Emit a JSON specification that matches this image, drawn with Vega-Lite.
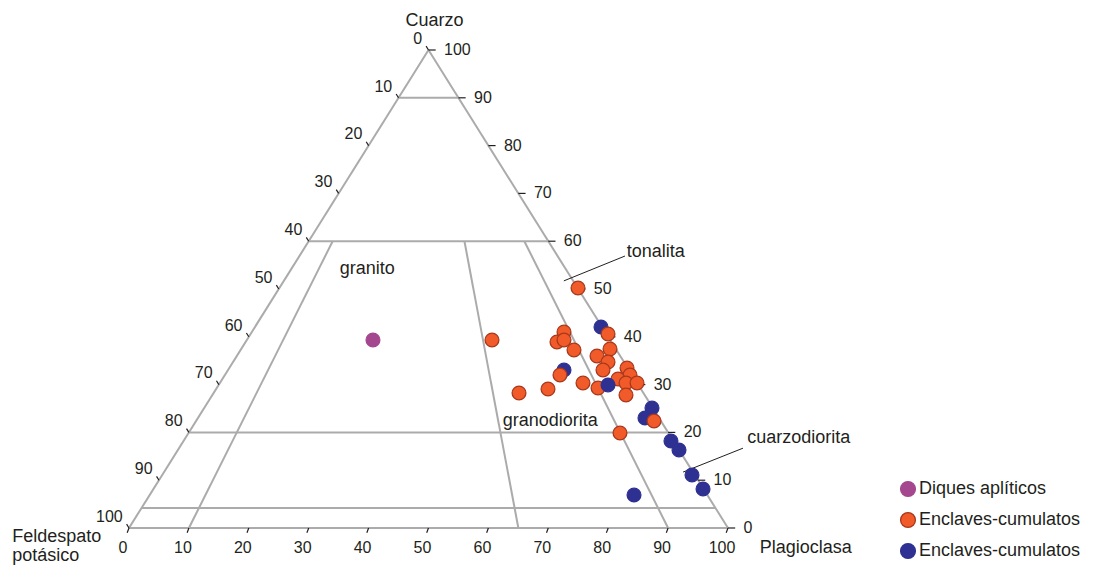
{
  "$schema": "https://vega.github.io/schema/vega-lite/v6.json",
  "width": 1097,
  "height": 565,
  "autosize": {"type": "none"},
  "padding": 0,
  "background": "white",
  "config": {
    "view": {"stroke": null},
    "text": {"font": "Liberation Sans", "color": "#231F20"}
  },
  "datasets": {
    "frame": [
      {"x": 0, "y": 0, "x2": 100, "y2": 0},
      {"x": 0, "y": 0, "x2": 50, "y2": 100},
      {"x": 100, "y": 0, "x2": 50, "y2": 100},
      {"x": 45, "y": 90, "x2": 55, "y2": 90},
      {"x": 30, "y": 60, "x2": 70, "y2": 60},
      {"x": 10, "y": 20, "x2": 90, "y2": 20},
      {"x": 2.1, "y": 4.2, "x2": 97.9, "y2": 4.2},
      {"x": 34, "y": 60, "x2": 10, "y2": 0},
      {"x": 56, "y": 60, "x2": 65, "y2": 0},
      {"x": 66, "y": 60, "x2": 90, "y2": 0}
    ],
    "ticks": [
      {"x": 100, "y": 0, "x2": 101.2, "y2": 0},
      {"x": 95, "y": 10, "x2": 96.2, "y2": 10},
      {"x": 90, "y": 20, "x2": 91.2, "y2": 20},
      {"x": 85, "y": 30, "x2": 86.2, "y2": 30},
      {"x": 80, "y": 40, "x2": 81.2, "y2": 40},
      {"x": 75, "y": 50, "x2": 76.2, "y2": 50},
      {"x": 70, "y": 60, "x2": 71.2, "y2": 60},
      {"x": 65, "y": 70, "x2": 66.2, "y2": 70},
      {"x": 60, "y": 80, "x2": 61.2, "y2": 80},
      {"x": 55, "y": 90, "x2": 56.2, "y2": 90},
      {"x": 50, "y": 100, "x2": 51.2, "y2": 100},
      {"x": 0, "y": 0, "x2": -0.4, "y2": 0.8},
      {"x": 5, "y": 10, "x2": 4.6, "y2": 10.8},
      {"x": 10, "y": 20, "x2": 9.6, "y2": 20.8},
      {"x": 15, "y": 30, "x2": 14.6, "y2": 30.8},
      {"x": 20, "y": 40, "x2": 19.6, "y2": 40.8},
      {"x": 25, "y": 50, "x2": 24.6, "y2": 50.8},
      {"x": 30, "y": 60, "x2": 29.6, "y2": 60.8},
      {"x": 35, "y": 70, "x2": 34.6, "y2": 70.8},
      {"x": 40, "y": 80, "x2": 39.6, "y2": 80.8},
      {"x": 45, "y": 90, "x2": 44.6, "y2": 90.8},
      {"x": 50, "y": 100, "x2": 49.6, "y2": 100.8},
      {"x": 0, "y": 0, "x2": -0.3, "y2": -1.0},
      {"x": 10, "y": 0, "x2": 9.7, "y2": -1.0},
      {"x": 20, "y": 0, "x2": 19.7, "y2": -1.0},
      {"x": 30, "y": 0, "x2": 29.7, "y2": -1.0},
      {"x": 40, "y": 0, "x2": 39.7, "y2": -1.0},
      {"x": 50, "y": 0, "x2": 49.7, "y2": -1.0},
      {"x": 60, "y": 0, "x2": 59.7, "y2": -1.0},
      {"x": 70, "y": 0, "x2": 69.7, "y2": -1.0},
      {"x": 80, "y": 0, "x2": 79.7, "y2": -1.0},
      {"x": 90, "y": 0, "x2": 89.7, "y2": -1.0},
      {"x": 100, "y": 0, "x2": 99.7, "y2": -1.0}
    ],
    "leaders": [
      {"x": 72.6, "y": 51.7, "x2": 82.8, "y2": 56.9},
      {"x": 92.5, "y": 11.7, "x2": 102.5, "y2": 16.7}
    ],
    "bottomLabels": [
      {"x": -1, "y": -4.2, "t": "0"},
      {"x": 9, "y": -4.2, "t": "10"},
      {"x": 19, "y": -4.2, "t": "20"},
      {"x": 29, "y": -4.2, "t": "30"},
      {"x": 39, "y": -4.2, "t": "40"},
      {"x": 49, "y": -4.2, "t": "50"},
      {"x": 59, "y": -4.2, "t": "60"},
      {"x": 69, "y": -4.2, "t": "70"},
      {"x": 79, "y": -4.2, "t": "80"},
      {"x": 89, "y": -4.2, "t": "90"},
      {"x": 99, "y": -4.2, "t": "100"}
    ],
    "rightLabels": [
      {"x": 52.6, "y": 100, "t": "100"},
      {"x": 57.6, "y": 90, "t": "90"},
      {"x": 62.6, "y": 80, "t": "80"},
      {"x": 67.6, "y": 70, "t": "70"},
      {"x": 72.6, "y": 60, "t": "60"},
      {"x": 77.6, "y": 50, "t": "50"},
      {"x": 82.6, "y": 40, "t": "40"},
      {"x": 87.6, "y": 30, "t": "30"},
      {"x": 92.6, "y": 20, "t": "20"},
      {"x": 97.6, "y": 10, "t": "10"},
      {"x": 102.6, "y": 0, "t": "0"}
    ],
    "leftLabels": [
      {"x": 48.95, "y": 102.35, "t": "0"},
      {"x": 43.95, "y": 92.35, "t": "10"},
      {"x": 38.95, "y": 82.35, "t": "20"},
      {"x": 33.95, "y": 72.35, "t": "30"},
      {"x": 28.95, "y": 62.35, "t": "40"},
      {"x": 23.95, "y": 52.35, "t": "50"},
      {"x": 18.95, "y": 42.35, "t": "60"},
      {"x": 13.95, "y": 32.35, "t": "70"},
      {"x": 8.95, "y": 22.35, "t": "80"},
      {"x": 3.95, "y": 12.35, "t": "90"},
      {"x": -1.05, "y": 2.35, "t": "100"}
    ],
    "names": [
      {"x": 51.0, "y": 105.0, "t": "Cuarzo", "a": "center"},
      {"x": -19.5, "y": -2.93, "t": "Feldespato", "a": "left"},
      {"x": -19.5, "y": -6.95, "t": "potásico", "a": "left"},
      {"x": 105.3, "y": -5.23, "t": "Plagioclasa", "a": "left"},
      {"x": 35.2, "y": 53.14, "t": "granito", "a": "left"},
      {"x": 62.4, "y": 21.34, "t": "granodiorita", "a": "left"},
      {"x": 83.1, "y": 56.69, "t": "tonalita", "a": "left"},
      {"x": 103.2, "y": 17.78, "t": "cuarzodiorita", "a": "left"}
    ],
    "points": [
      {"x": 40.73, "y": 39.33, "g": "Diques aplíticos"},
      {"x": 78.80, "y": 42.05, "g": "Enclaves-cumulatos 2"},
      {"x": 72.62, "y": 33.05, "g": "Enclaves-cumulatos 2"},
      {"x": 87.31, "y": 25.10, "g": "Enclaves-cumulatos 2"},
      {"x": 86.14, "y": 23.01, "g": "Enclaves-cumulatos 2"},
      {"x": 90.48, "y": 18.20, "g": "Enclaves-cumulatos 2"},
      {"x": 91.82, "y": 16.32, "g": "Enclaves-cumulatos 2"},
      {"x": 93.99, "y": 11.09, "g": "Enclaves-cumulatos 2"},
      {"x": 95.83, "y": 8.16, "g": "Enclaves-cumulatos 2"},
      {"x": 84.31, "y": 6.90, "g": "Enclaves-cumulatos 2"},
      {"x": 74.96, "y": 50.21, "g": "Enclaves-cumulatos"},
      {"x": 60.60, "y": 39.33, "g": "Enclaves-cumulatos"},
      {"x": 72.62, "y": 41.00, "g": "Enclaves-cumulatos"},
      {"x": 71.45, "y": 38.91, "g": "Enclaves-cumulatos"},
      {"x": 72.62, "y": 39.33, "g": "Enclaves-cumulatos"},
      {"x": 74.29, "y": 37.24, "g": "Enclaves-cumulatos"},
      {"x": 79.97, "y": 40.59, "g": "Enclaves-cumulatos"},
      {"x": 80.30, "y": 37.45, "g": "Enclaves-cumulatos"},
      {"x": 78.13, "y": 35.98, "g": "Enclaves-cumulatos"},
      {"x": 79.97, "y": 34.73, "g": "Enclaves-cumulatos"},
      {"x": 83.14, "y": 33.47, "g": "Enclaves-cumulatos"},
      {"x": 79.13, "y": 33.05, "g": "Enclaves-cumulatos"},
      {"x": 71.95, "y": 32.01, "g": "Enclaves-cumulatos"},
      {"x": 83.64, "y": 32.01, "g": "Enclaves-cumulatos"},
      {"x": 81.64, "y": 31.17, "g": "Enclaves-cumulatos"},
      {"x": 82.97, "y": 30.33, "g": "Enclaves-cumulatos"},
      {"x": 84.81, "y": 30.33, "g": "Enclaves-cumulatos"},
      {"x": 75.79, "y": 30.33, "g": "Enclaves-cumulatos"},
      {"x": 69.95, "y": 29.08, "g": "Enclaves-cumulatos"},
      {"x": 65.11, "y": 28.24, "g": "Enclaves-cumulatos"},
      {"x": 78.30, "y": 29.29, "g": "Enclaves-cumulatos"},
      {"x": 82.97, "y": 27.82, "g": "Enclaves-cumulatos"},
      {"x": 87.65, "y": 22.38, "g": "Enclaves-cumulatos"},
      {"x": 81.97, "y": 19.87, "g": "Enclaves-cumulatos"},
      {"x": 79.97, "y": 29.92, "g": "Enclaves-cumulatos 2"}
    ]
  },
  "resolve": {"scale": {"x": "shared", "y": "shared"}},
  "layer": [
    {
      "data": {"name": "frame"},
      "mark": {"type": "rule", "color": "#ABABAB", "strokeWidth": 2},
      "encoding": {
        "x": {"field": "x", "type": "quantitative", "scale": {"domain": [-21.5359, 161.6027], "nice": false, "zero": false}, "axis": null},
        "y": {"field": "y", "type": "quantitative", "scale": {"domain": [-7.7406, 110.4603], "nice": false, "zero": false}, "axis": null},
        "x2": {"field": "x2"},
        "y2": {"field": "y2"}
      }
    },
    {
      "data": {"name": "ticks"},
      "mark": {"type": "rule", "color": "#231F20", "strokeWidth": 1.2},
      "encoding": {
        "x": {"field": "x", "type": "quantitative"},
        "y": {"field": "y", "type": "quantitative"},
        "x2": {"field": "x2"},
        "y2": {"field": "y2"}
      }
    },
    {
      "data": {"name": "leaders"},
      "mark": {"type": "rule", "color": "#231F20", "strokeWidth": 1},
      "encoding": {
        "x": {"field": "x", "type": "quantitative"},
        "y": {"field": "y", "type": "quantitative"},
        "x2": {"field": "x2"},
        "y2": {"field": "y2"}
      }
    },
    {
      "data": {"name": "bottomLabels"},
      "mark": {"type": "text", "fontSize": 16, "align": "center", "baseline": "middle"},
      "encoding": {
        "x": {"field": "x", "type": "quantitative"},
        "y": {"field": "y", "type": "quantitative"},
        "text": {"field": "t"}
      }
    },
    {
      "data": {"name": "rightLabels"},
      "mark": {"type": "text", "fontSize": 16, "align": "left", "baseline": "middle"},
      "encoding": {
        "x": {"field": "x", "type": "quantitative"},
        "y": {"field": "y", "type": "quantitative"},
        "text": {"field": "t"}
      }
    },
    {
      "data": {"name": "leftLabels"},
      "mark": {"type": "text", "fontSize": 16, "align": "right", "baseline": "middle"},
      "encoding": {
        "x": {"field": "x", "type": "quantitative"},
        "y": {"field": "y", "type": "quantitative"},
        "text": {"field": "t"}
      }
    },
    {
      "data": {"name": "names"},
      "mark": {"type": "text", "fontSize": 18, "baseline": "alphabetic", "align": {"expr": "datum.a"}},
      "encoding": {
        "x": {"field": "x", "type": "quantitative"},
        "y": {"field": "y", "type": "quantitative"},
        "text": {"field": "t"}
      }
    },
    {
      "data": {"name": "points"},
      "mark": {"type": "point", "shape": "circle", "filled": true, "size": 190, "opacity": 1, "strokeWidth": 1.3},
      "encoding": {
        "x": {"field": "x", "type": "quantitative"},
        "y": {"field": "y", "type": "quantitative"},
        "fill": {
          "field": "g", "type": "nominal",
          "scale": {"domain": ["Diques aplíticos", "Enclaves-cumulatos", "Enclaves-cumulatos 2"], "range": ["#A4478F", "#F15A29", "#2E3192"]},
          "legend": {
            "orient": "none", "legendX": 899, "legendY": 480, "title": null,
            "labelFont": "Liberation Sans", "labelFontSize": 18, "labelColor": "#231F20", "labelLimit": 400,
            "symbolSize": 220, "symbolStrokeWidth": 1.3, "rowPadding": 9, "labelOffset": 2, "padding": 0,
            "labelExpr": "datum.label == 'Enclaves-cumulatos 2' ? 'Enclaves-cumulatos' : datum.label"
          }
        },
        "stroke": {
          "field": "g", "type": "nominal",
          "scale": {"domain": ["Diques aplíticos", "Enclaves-cumulatos", "Enclaves-cumulatos 2"], "range": ["#A4478F", "#A8381C", "#2E3192"]}
        }
      }
    }
  ]
}
